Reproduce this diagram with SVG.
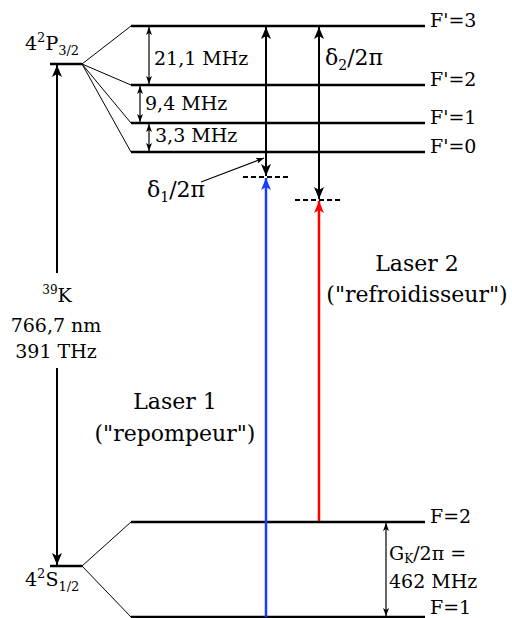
<svg xmlns="http://www.w3.org/2000/svg" width="512" height="618" viewBox="0 0 512 618">
<style>
text{font-family:'DejaVu Serif','Liberation Serif',serif;font-size:19px;fill:#000}
.big{font-size:22px}
.lv{stroke:#000;stroke-width:2.5;fill:none}
.thin{stroke:#000;stroke-width:1;fill:none}
.arr{stroke:#000;stroke-width:2;fill:none}
.sm{stroke:#000;stroke-width:1.2;fill:none}
.dash{stroke:#000;stroke-width:2;stroke-dasharray:5,3;fill:none}
.mid{text-anchor:middle}
</style>
<defs>
<marker id="ah" viewBox="0 0 12 10" refX="12" refY="5" markerWidth="12" markerHeight="10" markerUnits="userSpaceOnUse" orient="auto-start-reverse"><path d="M0,0 L12,5 L0,10 L3,5 z" fill="#000"/></marker>
<marker id="ahb" viewBox="0 0 12 10" refX="12" refY="5" markerWidth="12" markerHeight="10" markerUnits="userSpaceOnUse" orient="auto"><path d="M0,0 L12,5 L0,10 L3,5 z" fill="#1a3cff"/></marker>
<marker id="ahr" viewBox="0 0 12 10" refX="12" refY="5" markerWidth="12" markerHeight="10" markerUnits="userSpaceOnUse" orient="auto"><path d="M0,0 L12,5 L0,10 L3,5 z" fill="#ff0000"/></marker>
<marker id="as" viewBox="0 0 8 6" refX="8" refY="3" markerWidth="8" markerHeight="6" markerUnits="userSpaceOnUse" orient="auto-start-reverse"><path d="M0,0 L8,3 L0,6 L2,3 z" fill="#000"/></marker>
</defs>

<g id="level-P32">
<line class="lv" x1="50" y1="64" x2="82" y2="64"/>
<text x="25" y="50">4<tspan font-size="13" dy="-8">2</tspan><tspan dy="8">P</tspan><tspan font-size="13" dy="5">3/2</tspan></text>
</g>
<g id="level-F3"><line class="lv" x1="131" y1="26" x2="425" y2="26"/><text x="430" y="27">F'=3</text></g>
<g id="level-F2p"><line class="lv" x1="131" y1="85" x2="425" y2="85"/><text x="430" y="86">F'=2</text></g>
<g id="level-F1p"><line class="lv" x1="131" y1="123" x2="425" y2="123"/><text x="430" y="124">F'=1</text></g>
<g id="level-F0p"><line class="lv" x1="131" y1="152" x2="425" y2="152"/><text x="430" y="153">F'=0</text></g>

<g id="level-S12">
<line class="lv" x1="50" y1="566" x2="82" y2="566"/>
<text x="25" y="586">4<tspan font-size="13" dy="-8">2</tspan><tspan dy="8">S</tspan><tspan font-size="13" dy="5">1/2</tspan></text>
</g>
<g id="level-F2"><line class="lv" x1="131" y1="522" x2="425" y2="522"/><text x="430" y="523">F=2</text></g>
<g id="level-F1"><line class="lv" x1="131" y1="617" x2="425" y2="617"/><text x="430" y="614">F=1</text></g>

<g id="virtual-1"><line class="dash" x1="243" y1="177" x2="291" y2="177"/></g>
<g id="virtual-2"><line class="dash" x1="295" y1="200" x2="343" y2="200"/></g>

<g id="labels">
<text x="154" y="65">21,1 MHz</text>
<text x="145" y="110">9,4 MHz</text>
<text x="155" y="142">3,3 MHz</text>
<text class="big" x="325" y="65">δ<tspan font-size="14" dy="5">2</tspan><tspan dy="-5">/2π</tspan></text>
<text class="big" x="147" y="197">δ<tspan font-size="14" dy="5">1</tspan><tspan dy="-5">/2π</tspan></text>
<text class="mid" x="57" y="302"><tspan font-size="12" dy="-8">39</tspan><tspan dy="8">K</tspan></text>
<text class="mid" x="56" y="332">766,7 nm</text>
<text class="mid" x="56" y="358">391 THz</text>
<text class="big mid" x="175" y="409">Laser 1</text>
<text class="big mid" x="175" y="441">("repompeur")</text>
<text class="big mid" x="417" y="271">Laser 2</text>
<text class="big mid" x="417" y="302">("refroidisseur")</text>
<text x="389" y="560">G<tspan font-size="12" dy="3">K</tspan><tspan dy="-3">/2π =</tspan></text>
<text x="389" y="588">462 MHz</text>
</g>

<g id="connectors">
<line class="thin" x1="82" y1="64" x2="131" y2="26"/>
<line class="thin" x1="82" y1="64" x2="131" y2="85"/>
<line class="thin" x1="82" y1="64" x2="131" y2="123"/>
<line class="thin" x1="82" y1="64" x2="131" y2="152"/>
<line class="thin" x1="82" y1="566" x2="131" y2="522"/>
<line class="thin" x1="82" y1="566" x2="131" y2="617"/>
<line class="sm" x1="149" y1="27" x2="149" y2="84" marker-start="url(#as)" marker-end="url(#as)"/>
<line class="sm" x1="140" y1="86" x2="140" y2="122" marker-start="url(#as)" marker-end="url(#as)"/>
<line class="sm" x1="149" y1="124" x2="149" y2="151" marker-start="url(#as)" marker-end="url(#as)"/>
<line class="sm" x1="386" y1="523" x2="386" y2="616" marker-start="url(#as)" marker-end="url(#as)"/>
<line class="sm" x1="201" y1="182" x2="264" y2="158" marker-end="url(#as)"/>
<line class="arr" x1="57" y1="273" x2="57" y2="65" marker-end="url(#ah)"/>
<line class="arr" x1="57" y1="368" x2="57" y2="565" marker-end="url(#ah)"/>
<line class="arr" x1="266" y1="27" x2="266" y2="176" marker-start="url(#ah)" marker-end="url(#ah)"/>
<line class="arr" x1="319" y1="27" x2="319" y2="199" marker-start="url(#ah)" marker-end="url(#ah)"/>
<line stroke="#1a3cff" stroke-width="2.5" x1="266" y1="617" x2="266" y2="178" marker-end="url(#ahb)"/>
<line stroke="#ff0000" stroke-width="2.5" x1="319" y1="521" x2="319" y2="201" marker-end="url(#ahr)"/>
</g>
</svg>
